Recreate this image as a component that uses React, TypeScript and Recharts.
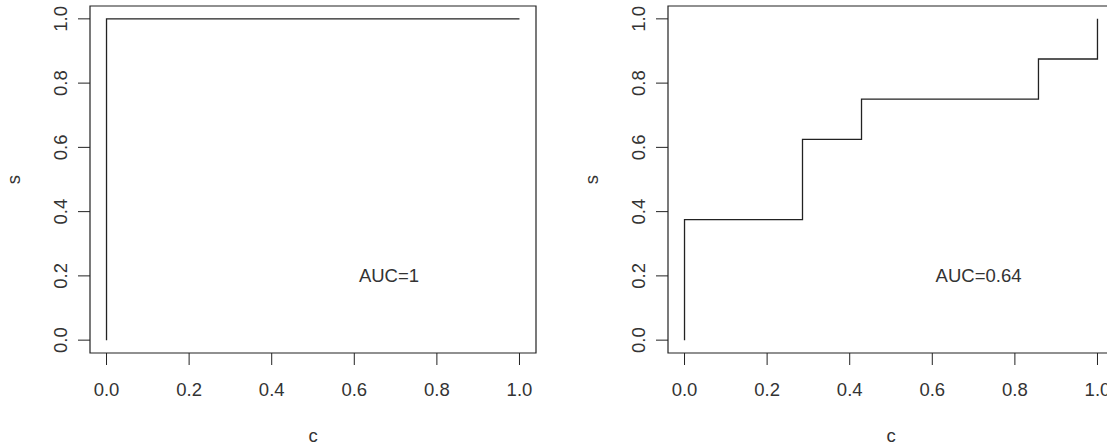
import React from 'react';
import { LineChart, Line, XAxis, YAxis, ReferenceArea, ReferenceDot, Label } from 'recharts';

// left panel: perfect classifier
const leftC = [0, 0, 1];
const leftS = [0, 1, 1];
// right panel: step ROC curve
const rightC = [0, 0, 0.2857, 0.2857, 0.4286, 0.4286, 0.8571, 0.8571, 1, 1];
const rightS = [0, 0.375, 0.375, 0.625, 0.625, 0.75, 0.75, 0.875, 0.875, 1];

const axisTicks = [0, 0.2, 0.4, 0.6, 0.8, 1.0];
const aucLabels = ['AUC=1', 'AUC=0.64'];
const aucPosC = [0.684, 0.712];
const aucPosS = [0.2, 0.2];

const FONT = '"Liberation Sans", Arial, sans-serif';
const FS = 18.5;
const INK = '#333';

const XTick = ({ x, y, payload }: any) => (
  <text x={x} y={y} dy="0.71em" textAnchor="middle" fontFamily={FONT} fontSize={FS} fill={INK}>
    {Number(payload.value).toFixed(1)}
  </text>
);

const YTick = ({ x, y, payload }: any) => (
  <text x={x} y={y} transform={`rotate(-90, ${x}, ${y})`} textAnchor="middle" fontFamily={FONT} fontSize={FS} fill={INK}>
    {Number(payload.value).toFixed(1)}
  </text>
);

const XTitle = ({ viewBox }: any) => (
  <text x={viewBox.x + viewBox.width / 2} y={viewBox.y + 89} textAnchor="middle" fontFamily={FONT} fontSize={FS} fill={INK}>
    c
  </text>
);

const YTitle = ({ viewBox }: any) => {
  const cx = viewBox.x + 20;
  const cy = viewBox.y + viewBox.height / 2;
  return (
    <text x={cx} y={cy} transform={`rotate(-90, ${cx}, ${cy})`} textAnchor="middle" fontFamily={FONT} fontSize={FS} fill={INK}>
      s
    </text>
  );
};

const AucText = ({ viewBox, value }: any) => (
  <text x={viewBox.x} y={viewBox.y} dy="0.35em" textAnchor="middle" fontFamily={FONT} fontSize={FS} fill={INK}>
    {value}
  </text>
);

const Panel = ({ c, s, idx, width }: { c: number[]; s: number[]; idx: number; width: number }) => {
  const data = c.map((v, i) => ({ c: v, s: s[i] }));
  return (
    <LineChart width={width} height={447} data={data} margin={{ top: 6, right: width - 536, bottom: 0, left: 0 }}>
      <XAxis
        type="number"
        dataKey="c"
        domain={[-0.04, 1.04]}
        ticks={axisTicks}
        allowDataOverflow
        axisLine={false}
        tickLine={{ stroke: '#222' }}
        tickSize={12}
        tickMargin={18}
        height={94}
        tick={<XTick />}
        label={<Label content={<XTitle />} />}
      />
      <YAxis
        type="number"
        dataKey="s"
        domain={[-0.04, 1.04]}
        ticks={axisTicks}
        allowDataOverflow
        axisLine={false}
        tickLine={{ stroke: '#222' }}
        tickSize={12}
        tickMargin={11}
        width={90}
        tick={<YTick />}
        label={<Label content={<YTitle />} />}
      />
      <ReferenceArea x1={-0.04} x2={1.04} y1={-0.04} y2={1.04} fill="none" fillOpacity={0} stroke="#222" strokeWidth={1.2} />
      <Line type="linear" dataKey="s" stroke="#222" strokeWidth={1.3} dot={false} isAnimationActive={false} />
      <ReferenceDot x={aucPosC[idx]} y={aucPosS[idx]} r={0} fill="none" stroke="none">
        <Label value={aucLabels[idx]} content={<AucText />} />
      </ReferenceDot>
    </LineChart>
  );
};

export default function App() {
  return (
    <div style={{ position: 'absolute', left: 0, top: 0, width: 1107, height: 447, overflow: 'hidden', background: '#fff' }}>
      <div style={{ position: 'absolute', left: 0, top: 0 }}>
        <Panel c={leftC} s={leftS} idx={0} width={553} />
      </div>
      <div style={{ position: 'absolute', left: 578, top: 0 }}>
        <Panel c={rightC} s={rightS} idx={1} width={560} />
      </div>
    </div>
  );
}
